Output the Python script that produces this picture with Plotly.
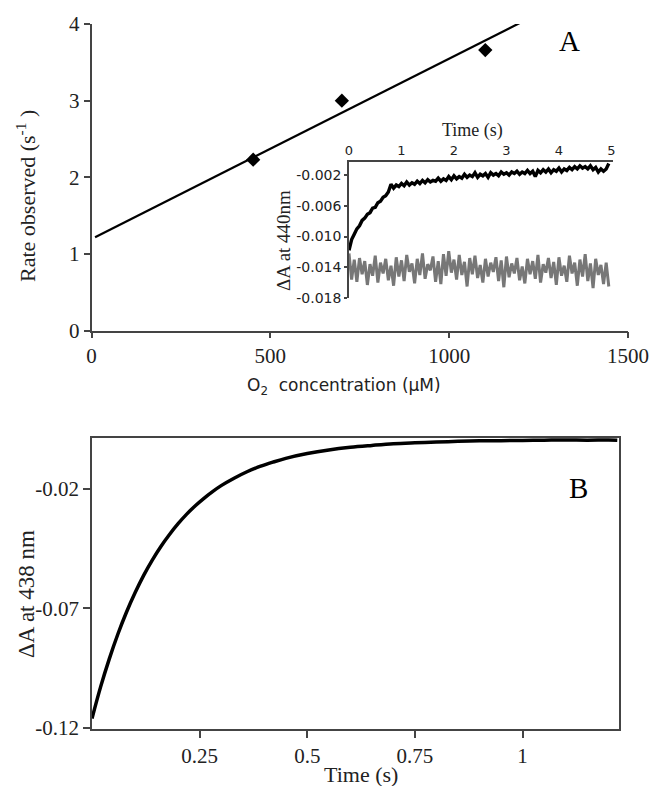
import plotly.graph_objects as go

W, H = 652, 786
SERIF = "Liberation Serif, Times New Roman, serif"
SANS = "DejaVu Sans, Lucida Grande, sans-serif"
AX = "#444444"

# ---------------- Panel A data ----------------
o2_conc = [452, 700, 1101]
rate_obs = [2.23, 3.00, 3.66]
fit_x = [10, 1213]
fit_y = [1.217, 4.05]
a_xticks = [0, 500, 1000, 1500]
a_yticks = [0, 1, 2, 3, 4]

# ---------------- Inset data (time in s, dA in absorbance units) ----------------
inset_t = [round(i * 0.05, 2) for i in range(100)]
inset_black = [
    -0.0118, -0.0104, -0.0097, -0.0090, -0.0086, -0.0079, -0.0076, -0.0071, -0.0069, -0.0063,
    -0.0062, -0.0056, -0.0054, -0.0049, -0.0047, -0.0042, -0.0032, -0.0037, -0.0033, -0.0035,
    -0.0031, -0.0034, -0.0029, -0.0033, -0.0030, -0.0032, -0.0028, -0.0031, -0.0027, -0.0030,
    -0.0026, -0.0029, -0.0027, -0.0028, -0.0024, -0.0028, -0.0025, -0.0027, -0.0022, -0.0026,
    -0.0021, -0.0025, -0.0022, -0.0024, -0.0019, -0.0023, -0.0020, -0.0022, -0.0017, -0.0023,
    -0.0019, -0.0021, -0.0018, -0.0023, -0.0017, -0.0020, -0.0018, -0.0021, -0.0016, -0.0019,
    -0.0017, -0.0020, -0.0016, -0.0018, -0.0015, -0.0019, -0.0016, -0.0018, -0.0014, -0.0018,
    -0.0015, -0.0022, -0.0014, -0.0017, -0.0013, -0.0016, -0.0012, -0.0017, -0.0013, -0.0015,
    -0.0011, -0.0016, -0.0012, -0.0014, -0.0010, -0.0013, -0.0009, -0.0012, -0.0008, -0.0011,
    -0.0009, -0.0012, -0.0008, -0.0013, -0.0010, -0.0016, -0.0012, -0.0015, -0.0012, -0.0005,
]
inset_gray = [
    -0.0122, -0.0156, -0.0130, -0.0159, -0.0128, -0.0149, -0.0132, -0.0163, -0.0136, -0.0151,
    -0.0125, -0.0160, -0.0134, -0.0148, -0.0129, -0.0157, -0.0138, -0.0164, -0.0127, -0.0152,
    -0.0131, -0.0158, -0.0124, -0.0146, -0.0135, -0.0161, -0.0129, -0.0150, -0.0122, -0.0155,
    -0.0136, -0.0144, -0.0126, -0.0159, -0.0132, -0.0162, -0.0123, -0.0151, -0.0119, -0.0147,
    -0.0130, -0.0156, -0.0124, -0.0150, -0.0133, -0.0165, -0.0128, -0.0149, -0.0125, -0.0154,
    -0.0137, -0.0160, -0.0129, -0.0152, -0.0134, -0.0146, -0.0127, -0.0158, -0.0131, -0.0166,
    -0.0126, -0.0153, -0.0135, -0.0148, -0.0128, -0.0157, -0.0139, -0.0161, -0.0129, -0.0149,
    -0.0132, -0.0155, -0.0124, -0.0160, -0.0136, -0.0147, -0.0128, -0.0154, -0.0133, -0.0163,
    -0.0127, -0.0151, -0.0138, -0.0159, -0.0125, -0.0148, -0.0134, -0.0164, -0.0130, -0.0152,
    -0.0123, -0.0158, -0.0135, -0.0167, -0.0129, -0.0150, -0.0137, -0.0162, -0.0134, -0.0165,
]
inset_xticks = [0, 1, 2, 3, 4, 5]
inset_yticks = [-0.002, -0.006, -0.010, -0.014, -0.018]
inset_ytext = ["-0.002", "-0.006", "-0.010", "-0.014", "-0.018"]

# ---------------- Panel B data ----------------
b_time = [0.00, 0.02, 0.04, 0.06, 0.08, 0.10, 0.12, 0.14, 0.16, 0.18,
          0.20, 0.22, 0.24, 0.26, 0.28, 0.30, 0.33, 0.36, 0.39, 0.42,
          0.45, 0.50, 0.55, 0.60, 0.65, 0.70, 0.75, 0.80, 0.85, 0.90,
          0.95, 1.00, 1.05, 1.10, 1.15, 1.20, 1.22]
b_dA = [-0.1160, -0.1028, -0.0912, -0.0808, -0.0716, -0.0635, -0.0562, -0.0498, -0.0441, -0.0391,
        -0.0346, -0.0306, -0.0271, -0.0240, -0.0212, -0.0187, -0.0156, -0.0129, -0.0107, -0.0089,
        -0.0073, -0.0053, -0.0038, -0.0027, -0.0019, -0.0012, -0.0008, -0.0005, -0.0002, 0.0000,
        0.0001, 0.0002, 0.0003, 0.0004, 0.0003, 0.0004, 0.0003]
b_xticks = [0.25, 0.5, 0.75, 1]
b_yticks = [-0.02, -0.07, -0.12]
b_ytext = ["-0.02", "-0.07", "-0.12"]


def px(x):
    return x / W


def py(y):
    return 1 - y / H


fig = go.Figure()

# Panel A
fig.add_trace(go.Scatter(x=fit_x, y=fit_y, mode="lines",
                         line=dict(color="black", width=2.2), xaxis="x", yaxis="y"))
fig.add_trace(go.Scatter(x=o2_conc, y=rate_obs, mode="markers",
                         marker=dict(symbol="diamond", size=11, color="black"),
                         xaxis="x", yaxis="y"))
# Inset
fig.add_trace(go.Scatter(x=inset_t, y=inset_gray, mode="lines",
                         line=dict(color="#777777", width=3), xaxis="x2", yaxis="y2"))
fig.add_trace(go.Scatter(x=inset_t, y=inset_black, mode="lines",
                         line=dict(color="black", width=3.4), xaxis="x2", yaxis="y2"))
# Panel B
fig.add_trace(go.Scatter(x=b_time, y=b_dA, mode="lines",
                         line=dict(color="black", width=3.5, shape="spline"),
                         xaxis="x3", yaxis="y3"))

common = dict(showgrid=False, zeroline=False, showline=True, linecolor=AX, linewidth=1.5,
              tickcolor=AX, tickwidth=1.5, automargin=False)

fig.update_layout(
    template="none",
    width=W, height=H, margin=dict(l=0, r=0, t=0, b=0, pad=0, autoexpand=False),
    paper_bgcolor="white", plot_bgcolor="rgba(0,0,0,0)", showlegend=False,
    xaxis=dict(domain=[px(91.5), px(628)], range=[0, 1500], anchor="y",
               tickvals=a_xticks, ticks="outside", ticklen=6,
               tickfont=dict(family=SERIF, size=21, color="#222"), **common),
    yaxis=dict(domain=[py(330.5), py(24)], range=[0, 4], anchor="x",
               tickvals=a_yticks, ticks="outside", ticklen=6,
               tickfont=dict(family=SERIF, size=21, color="#222"), **common),
    xaxis2=dict(domain=[px(349), px(613)], range=[0, 5.03], anchor="y2", side="top",
                tickvals=inset_xticks, ticks="", ticklabelstandoff=0,
                tickfont=dict(family=SANS, size=13, color="#222"), **common),
    yaxis2=dict(domain=[py(298), py(162)], range=[-0.018, -0.0003], anchor="x2",
                tickvals=inset_yticks, ticktext=inset_ytext, ticks="outside", ticklen=3,
                tickfont=dict(family=SANS, size=14, color="#222"), **common),
    xaxis3=dict(domain=[px(92), px(619)], range=[0, 1.224], anchor="y3", mirror=True,
                tickvals=b_xticks, ticks="outside", ticklen=7,
                tickfont=dict(family=SERIF, size=21, color="#222"), **common),
    yaxis3=dict(domain=[py(729), py(438)], range=[-0.1204, 0.0012], anchor="x3", mirror=True,
                tickvals=b_yticks, ticktext=b_ytext, ticks="outside", ticklen=7,
                tickfont=dict(family=SERIF, size=21, color="#222"), **common),
)

ann = [
    dict(text="A", x=px(569), y=py(41), font=dict(family=SERIF, size=29, color="black")),
    dict(text="B", x=px(578), y=py(488), font=dict(family=SERIF, size=29, color="black")),
    dict(text="Rate observed (s<sup>-1</sup> )", x=px(26), y=py(196), textangle=-90,
         font=dict(family=SERIF, size=22, color="#222")),
    dict(text="O<sub>2</sub>  concentration (μM)", x=px(344), y=py(386),
         font=dict(family=SANS, size=17, color="#222")),
    dict(text="Time (s)", x=px(472), y=py(131), font=dict(family=SERIF, size=18, color="#222")),
    dict(text="ΔA at 440nm", x=px(283), y=py(241), textangle=-90,
         font=dict(family=SERIF, size=19, color="#222")),
    dict(text="ΔA at 438 nm", x=px(26), y=py(594), textangle=-90,
         font=dict(family=SERIF, size=23, color="#222")),
    dict(text="Time (s)", x=px(361), y=py(774), font=dict(family=SERIF, size=22, color="#222")),
]
for a in ann:
    a.update(xref="paper", yref="paper", showarrow=False, xanchor="center", yanchor="middle")
fig.update_layout(annotations=ann)

fig.write_html(
    "out.html",
    config={"displayModeBar": False},
    post_script="document.body.style.margin='0';document.body.style.overflow='hidden';",
)
